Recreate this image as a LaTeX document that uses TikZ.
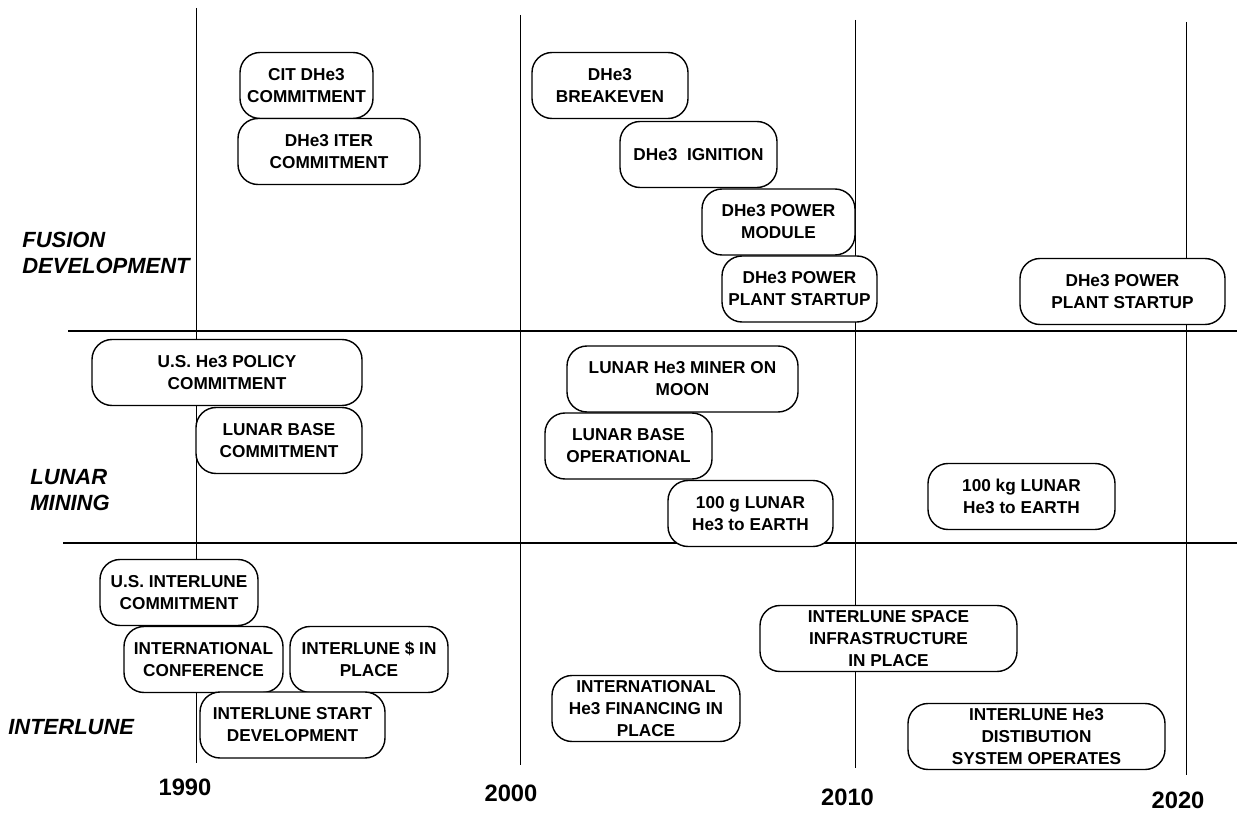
\documentclass[tikz,border=0pt]{standalone}
\usepackage{fontspec}
\setmainfont{Liberation Sans}
\usepackage{tikz}

\begin{document}
\begin{tikzpicture}[
  font=\bfseries\fontsize{9.8}{12.5}\selectfont,
  event/.style={draw, fill=white, line width=0.8pt, rounded corners=4mm,
    align=center, inner sep=1pt, minimum height=13.2mm},
  rowlbl/.style={font=\bfseries\itshape\fontsize{12.5}{15}\selectfont,
    align=left, anchor=west, inner sep=0pt},
  yearlbl/.style={font=\bfseries\fontsize{13.5}{16}\selectfont},
  yearline/.style={line width=0.5pt},
  rowline/.style={line width=1.1pt},
]
\useasboundingbox (0,0) rectangle (24.74,-16.26);

% decade lines and years
\foreach \x/\ytop/\ybot/\lx/\ly/\yr in {3.92/-0.16/-15.26/3.70/-15.74/1990,
    10.40/-0.30/-15.30/10.22/-15.86/2000, 17.10/-0.40/-15.36/16.95/-15.94/2010,
    23.72/-0.44/-15.50/23.56/-16.00/2020} {
  \draw[yearline] (\x,\ytop) -- (\x,\ybot);
  \node[yearlbl] (yr\yr) at (\lx,\ly) {\yr};
}

% row dividers
\draw[rowline] (1.36,-6.62) -- (24.74,-6.62);
\draw[rowline] (1.26,-10.86) -- (24.74,-10.86);

% row labels
\node[rowlbl] (fusion) at (0.44,-5.06) {FUSION\\DEVELOPMENT};
\node[rowlbl] (lunar) at (0.60,-9.80) {LUNAR\\MINING};
\node[rowlbl] (interlune) at (0.16,-14.54) {INTERLUNE};

% fusion development
\node[event, minimum width=26.6mm] (cit) at (6.13,-1.71) {CIT DHe3\\COMMITMENT};
\node[event, minimum width=36.4mm] (iter) at (6.58,-3.03) {DHe3 ITER\\COMMITMENT};
\node[event, minimum width=31.2mm] (breakeven) at (12.20,-1.71) {DHe3\\BREAKEVEN};
\node[event, minimum width=31.4mm] (ignition) at (13.97,-3.09) {DHe3~~IGNITION};
\node[event, minimum width=30.6mm] (module) at (15.57,-4.44) {DHe3 POWER\\MODULE};
\node[event, minimum width=31.0mm] (startA) at (15.99,-5.78) {DHe3 POWER\\PLANT STARTUP};
\node[event, minimum width=41.0mm] (startB) at (22.45,-5.83) {DHe3 POWER\\PLANT STARTUP};

% lunar mining
\node[event, minimum width=54.0mm] (policy) at (4.54,-7.45) {U.S. He3 POLICY\\COMMITMENT};
\node[event, minimum width=33.2mm] (basecommit) at (5.58,-8.81) {LUNAR BASE\\COMMITMENT};
\node[event, minimum width=46.2mm] (miner) at (13.65,-7.58) {LUNAR He3 MINER ON\\MOON};
\node[event, minimum width=33.4mm] (baseop) at (12.57,-8.92) {LUNAR BASE\\OPERATIONAL};
\node[event, minimum width=33.0mm] (gram) at (15.01,-10.27) {100 g LUNAR\\He3 to EARTH};
\node[event, minimum width=37.4mm] (kilo) at (20.43,-9.93) {100 kg LUNAR\\He3 to EARTH};

% interlune
\node[event, minimum width=31.6mm] (usil) at (3.58,-11.85) {U.S. INTERLUNE\\COMMITMENT};
\node[event, minimum width=31.8mm] (conf) at (4.07,-13.19) {INTERNATIONAL\\CONFERENCE};
\node[event, minimum width=31.6mm] (dollars) at (7.38,-13.19) {INTERLUNE \$ IN\\PLACE};
\node[event, minimum width=37.0mm] (startdev) at (5.85,-14.50) {INTERLUNE START\\DEVELOPMENT};
\node[event, minimum width=37.6mm] (financing) at (12.92,-14.17) {INTERNATIONAL\\He3 FINANCING IN\\PLACE};
\node[event, minimum width=51.4mm] (infra) at (17.77,-12.77) {INTERLUNE SPACE\\INFRASTRUCTURE\\IN PLACE};
\node[event, minimum width=51.4mm] (distrib) at (20.73,-14.73) {INTERLUNE He3\\DISTIBUTION\\SYSTEM OPERATES};
\end{tikzpicture}
\end{document}
